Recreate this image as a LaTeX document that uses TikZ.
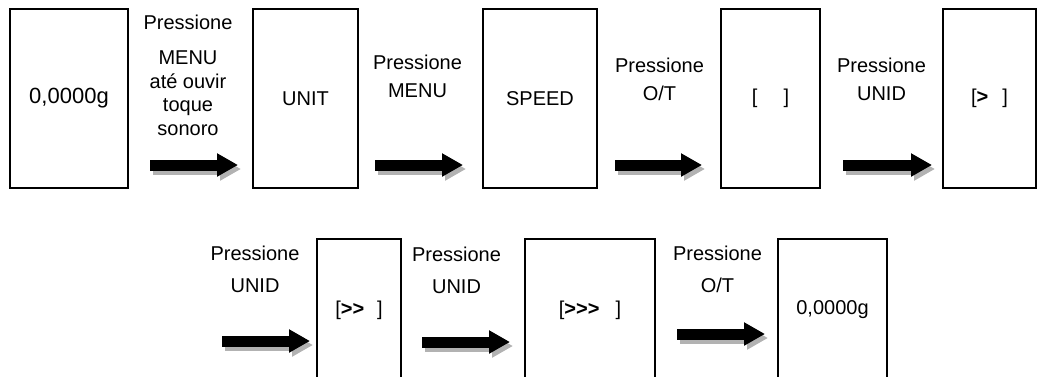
\documentclass[tikz,border=0pt]{standalone}
\usepackage{fontspec}
\setmainfont{Liberation Sans}
\usetikzlibrary{arrows.meta}

\begin{document}
\begin{tikzpicture}[x=0.5pt,y=-0.5pt,
  screen/.style={draw, line width=1pt, minimum height=89.5pt, inner sep=0pt},
  press/.style={align=center, anchor=base, inner sep=0pt, font=\fontsize{10}{11.75}\selectfont},
  push/.style={line width=5.5pt, -{Triangle[length=10.5pt,width=11pt]}},
  pushshade/.style={push, black!30, transform canvas={xshift=1.5pt,yshift=-2pt}}]
\path[use as bounding box, clip] (0,0) rectangle (1037,376);
%TOP
\node[screen, minimum width=59pt, font=\fontsize{11}{13}\selectfont] (zero) at (69,98.5) {0,0000g};
\node[screen, minimum width=52.5pt] (unit) at (305.5,98.5) {UNIT};
\node[screen, minimum width=57pt] (speed) at (540,98.5) {SPEED};
\node[screen, minimum width=49.5pt] (empty) at (770.5,98.5) {[\hspace{13pt}]};
\node[screen, minimum width=46.5pt] (one) at (989.5,98.5) {[\textbf{>}\hspace{7pt}]};
%BOT
\node[screen, minimum width=42pt, minimum height=71pt] (two) at (359,310) {[\textbf{>\kern0pt>}\hspace{6.5pt}]};
\node[screen, minimum width=65pt, minimum height=71pt] (three) at (590,310) {[\textbf{>\kern0pt>\kern0pt>}\hspace{8pt}]};
\node[screen, minimum width=54.5pt, minimum height=71pt] (done) at (832.5,310) {0,0000g};
% labels (base = last line)
\node[press] (tip1) at (188,135) {Pressione\\[5.75pt] MENU\\ até ouvir\\ toque\\ sonoro};
\node[press] (tip2) at (417.5,97) {Pressione\\[2pt] MENU};
\node[press] (tip3) at (659.5,100) {Pressione\\[2pt] O/T};
\node[press] (tip4) at (881.5,100) {Pressione\\[2pt] UNID};
\node[press] (tipa) at (255,292) {Pressione\\[4.25pt] UNID};
\node[press] (tipb) at (456.5,293) {Pressione\\[4.25pt] UNID};
\node[press] (tipc) at (717.5,292) {Pressione\\[4.25pt] O/T};
% arrows
\foreach \n/\a/\b/\y in {1/150/238/165, 2/375/463/165, 3/615/702/165, 4/843/932/165,
                         a/222/310/341, b/422/510/342, c/677/765/334}{
  \coordinate (s\n) at (\a,\y);
  \coordinate (e\n) at (\b,\y);
  \draw[pushshade] (s\n) -- (e\n);
  \draw[push] (s\n) -- (e\n);
}
\end{tikzpicture}
\end{document}
